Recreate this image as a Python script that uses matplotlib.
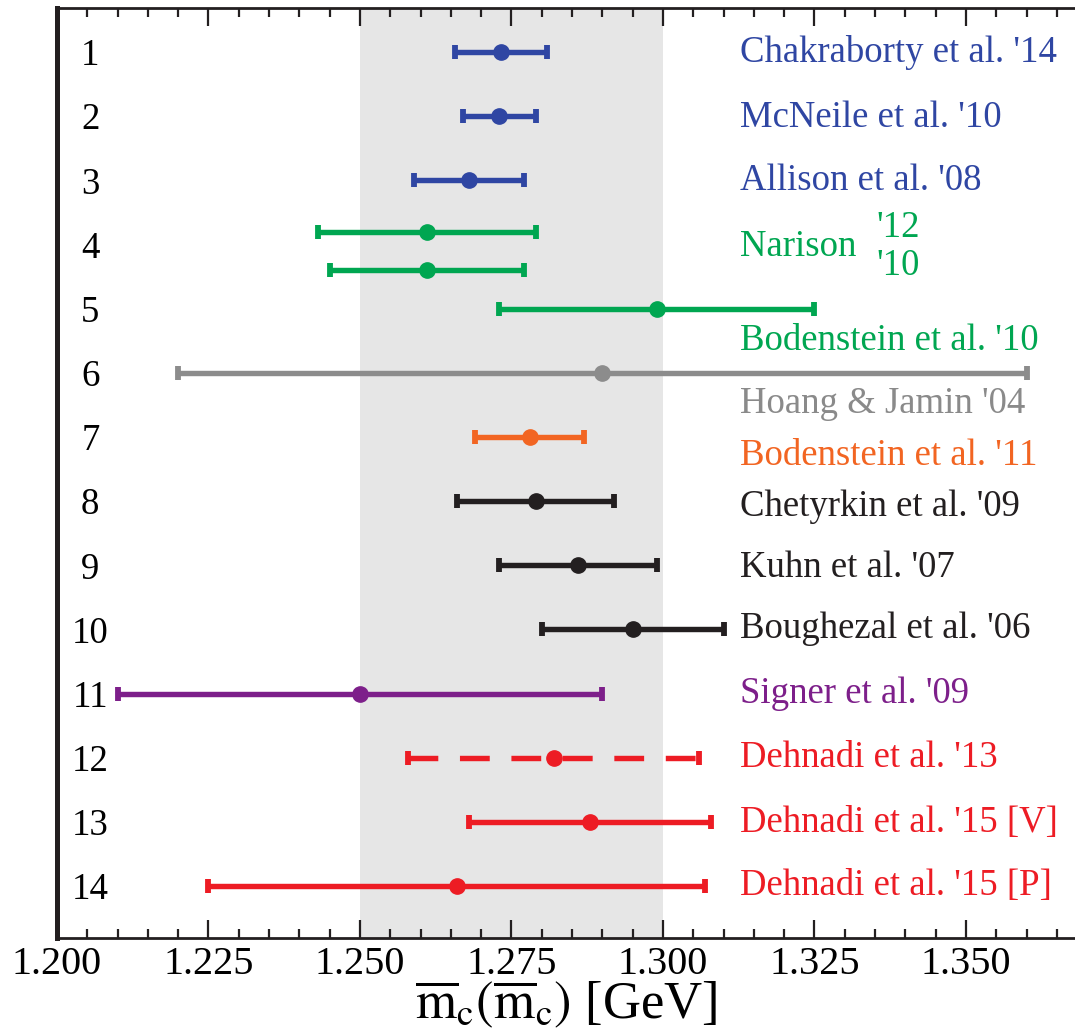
import numpy as np
import matplotlib
matplotlib.use("Agg")
import matplotlib.pyplot as plt

plt.rcParams["font.family"] = ["Liberation Serif", "DejaVu Serif"]
plt.rcParams["mathtext.fontset"] = "stix"

# --------------------------------------------------------------------------
# Data: charm quark mass determinations, mc(mc) in GeV
# --------------------------------------------------------------------------
rows       = list(range(1, 15))
row_names  = [str(r) for r in rows]

bar_y      = [1, 2, 3, 3.8, 4.4, 5, 6, 7, 8, 9, 10, 11, 12, 13, 14]
central    = [1.2733, 1.273, 1.268, 1.261, 1.261, 1.299, 1.290, 1.278,
              1.279, 1.286, 1.295, 1.250, 1.282, 1.288, 1.266]
err_lo     = [0.0076, 0.006, 0.009, 0.018, 0.016, 0.026, 0.070, 0.009,
              0.013, 0.013, 0.015, 0.040, 0.024, 0.020, 0.041]
err_hi     = [0.0076, 0.006, 0.009, 0.018, 0.016, 0.026, 0.070, 0.009,
              0.013, 0.013, 0.015, 0.040, 0.024, 0.020, 0.041]

BLUE, GREEN, GRAY = "#2f46a3", "#00a651", "#8c8c8c"
ORANGE, BLACK, PURPLE, RED = "#f26522", "#231f20", "#7d1f8a", "#ed1c24"
bar_colors = [BLUE, BLUE, BLUE, GREEN, GREEN, GREEN, GRAY, ORANGE,
              BLACK, BLACK, BLACK, PURPLE, RED, RED, RED]
dashed     = [False] * 12 + [True, False, False]

labels     = ["Chakraborty et al. '14", "McNeile et al. '10", "Allison et al. '08",
              "Narison", "Bodenstein et al. '10", "Hoang & Jamin '04",
              "Bodenstein et al. '11", "Chetyrkin et al. '09", "Kuhn et al. '07",
              "Boughezal et al. '06", "Signer et al. '09", "Dehnadi et al. '13",
              "Dehnadi et al. '15 [V]", "Dehnadi et al. '15 [P]"]
label_y    = [1.0, 2.02, 3.01, 4.04, 5.5, 6.48, 7.29, 8.09, 9.04,
              9.99, 11.0, 12.0, 13.01, 13.99]
label_cols = [BLUE, BLUE, BLUE, GREEN, GREEN, "#8a8a8a", ORANGE,
              BLACK, BLACK, BLACK, PURPLE, RED, RED, RED]
narison_years = ["'12", "'10"]
narison_y     = [3.74, 4.33]

band = (1.250, 1.300)
xmajor = np.arange(1.200, 1.3501, 0.025)
xminor = np.arange(1.200, 1.3651, 0.005)

# --------------------------------------------------------------------------
# Figure
# --------------------------------------------------------------------------
fig = plt.figure(figsize=(10.75, 10.31), dpi=100)
ax = fig.add_axes([0.053, 0.0902, 0.947, 0.902])

ax.axvspan(band[0], band[1], color="#e6e6e6", zorder=0, lw=0)

for i in range(len(central)):
    eb = ax.errorbar(central[i], bar_y[i],
                     xerr=[[err_lo[i]], [err_hi[i]]],
                     fmt="o", color=bar_colors[i], ms=11,
                     elinewidth=3.9, capsize=5.0, capthick=4.2, zorder=3)
    if dashed[i]:
        eb[2][0].set_linestyle((0, (5.5, 4.0)))

lx = 1.3127
for txt, y, c in zip(labels, label_y, label_cols):
    ax.text(lx, y, txt, color=c, fontsize=26.5, ha="left", va="center")
for txt, y in zip(narison_years, narison_y):
    ax.text(1.3353, y, txt, color=GREEN, fontsize=26.5, ha="left", va="center")

ax.set_xticks(xmajor)
ax.set_xticklabels([f"{v:.3f}" for v in xmajor])
ax.set_xticks(xminor, minor=True)
ax.tick_params(axis="x", which="both", direction="in", top=True, bottom=True,
               labelsize=29, pad=6, width=1.6, color=BLACK)
ax.tick_params(axis="x", which="major", length=13)
ax.tick_params(axis="x", which="minor", length=6.5)

ax.set_yticks(rows)
ax.set_yticklabels(row_names)
ax.tick_params(axis="y", which="both", length=0, pad=-24, labelsize=26.5)
for lbl in ax.get_yticklabels():
    lbl.set_horizontalalignment("center")

# limits after ticks (set_xticks would widen them)
ax.set_xlim(1.2, 1.368)
ax.set_ylim(14.81, 0.314)

ax.spines["left"].set_linewidth(3.6)
ax.spines["bottom"].set_linewidth(2.0)
ax.spines["top"].set_linewidth(2.0)
ax.spines["right"].set_visible(False)
for s in ax.spines.values():
    s.set_color(BLACK)

ax.set_xlabel(r"$\overline{\mathrm{m}}_\mathrm{c}(\overline{\mathrm{m}}_\mathrm{c})$ [GeV]",
              fontsize=38, labelpad=-3)

plt.savefig("out.png", dpi=100)
plt.close()
